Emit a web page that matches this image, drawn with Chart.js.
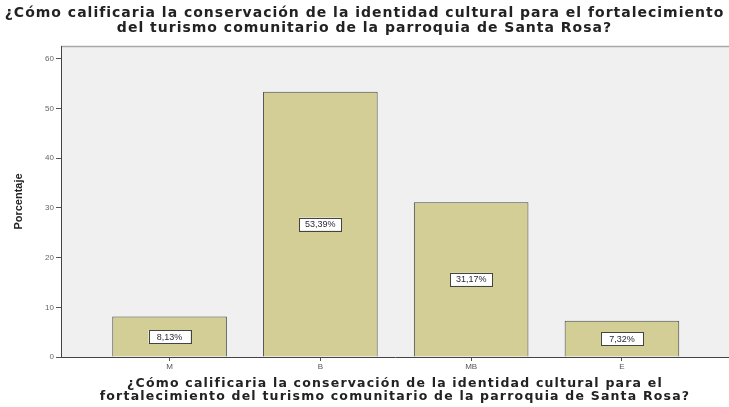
<!DOCTYPE html>
<html>
<head>
<meta charset="utf-8">
<script src="https://cdn.jsdelivr.net/npm/chart.js@4/dist/chart.umd.min.js"></script>
<style>
  body { margin: 0; background: #fff; }
  #wrap { width: 729px; height: 407px; }
</style>
</head>
<body>
<div id="wrap"><canvas id="chart" width="729" height="407"></canvas></div>
<script>
const categories = ['M', 'B', 'MB', 'E'];
const percentages = [8.13, 53.39, 31.17, 7.32];
const yTicks = [0, 10, 20, 30, 40, 50, 60];
const titleLines = ['¿Cómo calificaria la conservación de la identidad cultural para el fortalecimiento',
                    'del turismo comunitario de la parroquia de Santa Rosa?'];
const xTitleLines = ['¿Cómo calificaria la conservación de la identidad cultural para el',
                     'fortalecimiento del turismo comunitario de la parroquia de Santa Rosa?'];

// gray plot background + top frame line
const plotBackground = {
    id: 'plotBackground',
    beforeDraw(chart) {
        const { ctx, chartArea: a } = chart;
        ctx.save();
        ctx.fillStyle = '#f0f0f0';
        ctx.fillRect(a.left, a.top, a.right - a.left, a.bottom - a.top);
        ctx.strokeStyle = '#a8a8a8';
        ctx.lineWidth = 1.5;
        ctx.beginPath();
        ctx.moveTo(a.left, a.top + 0.5);
        ctx.lineTo(a.right, a.top + 0.5);
        ctx.stroke();
        ctx.restore();
    }
};

// chart title on top and the two-line x axis title (wide spaced, like the SPSS output)
const titles = {
    id: 'titles',
    afterDraw(chart) {
        const { ctx, chartArea: a } = chart;
        ctx.save();
        ctx.fillStyle = '#222';
        ctx.textAlign = 'center';
        ctx.textBaseline = 'middle';
        ctx.font = 'bold 14px "DejaVu Sans", sans-serif';
        ctx.letterSpacing = '1px';
        ctx.fillText(titleLines[0], chart.width / 2, 13);
        ctx.fillText(titleLines[1], chart.width / 2, 28);
        ctx.font = 'bold 12.5px "DejaVu Sans", sans-serif';
        ctx.letterSpacing = '1.2px';
        const cx = (a.left + a.right) / 2;
        ctx.fillText(xTitleLines[0], cx, 384);
        ctx.fillText(xTitleLines[1], cx, 397);
        ctx.restore();
    }
};

// boxed percentage labels in the middle of each bar
const boxLabels = {
    id: 'boxLabels',
    afterDatasetsDraw(chart) {
        const ctx = chart.ctx;
        const meta = chart.getDatasetMeta(0);
        ctx.save();
        ctx.font = '9px "Liberation Sans", Arial, sans-serif';
        ctx.textAlign = 'center';
        ctx.textBaseline = 'middle';
        meta.data.forEach((bar, i) => {
            const text = percentages[i].toFixed(2).replace('.', ',') + '%';
            const cy = (bar.y + bar.base) / 2;
            const w = 42, h = 13;
            ctx.fillStyle = '#ffffff';
            ctx.fillRect(bar.x - w / 2, cy - h / 2, w, h);
            ctx.strokeStyle = '#444444';
            ctx.lineWidth = 1;
            ctx.strokeRect(Math.round(bar.x - w / 2) + 0.5, Math.round(cy - h / 2) + 0.5, w, h);
            ctx.fillStyle = '#2a2a3a';
            ctx.fillText(text, bar.x, cy + 0.5);
        });
        ctx.restore();
    }
};

new Chart(document.getElementById('chart').getContext('2d'), {
    type: 'bar',
    data: {
        datasets: [{
            data: percentages.map((v, i) => ({ x: i, y: v })),
            backgroundColor: '#d3cd96',
            borderColor: '#444444',
            borderWidth: 1,
            barPercentage: 0.76,
            categoryPercentage: 1
        }]
    },
    options: {
        responsive: false,
        animation: false,
        layout: { padding: { left: 12, right: 0, top: 46, bottom: 0 } },
        plugins: {
            legend: { display: false },
            tooltip: { enabled: false },
            title: { display: false }
        },
        scales: {
            x: {
                type: 'linear',
                offset: false,
                min: -0.72,
                max: 3.71,
                afterBuildTicks: scale => { scale.ticks = categories.map((c, i) => ({ value: i })); },
                afterFit: scale => { scale.height = 50; },
                ticks: {
                    callback: v => categories[v],
                    color: '#555',
                    font: { family: '"Liberation Sans", Arial, sans-serif', size: 8 },
                    padding: 1,
                    maxRotation: 0
                },
                grid: { display: true, offset: false, drawOnChartArea: false, tickLength: 4, color: '#555' },
                border: { color: '#444', width: 1 }
            },
            y: {
                min: 0,
                max: 62.6,
                afterBuildTicks: scale => { scale.ticks = yTicks.map(v => ({ value: v })); },
                afterFit: scale => { scale.width = 49; },
                ticks: {
                    color: '#666',
                    font: { family: '"Liberation Sans", Arial, sans-serif', size: 8 },
                    padding: 2
                },
                grid: { display: true, drawOnChartArea: false, tickLength: 5, color: '#555' },
                border: { color: '#444', width: 1 },
                title: {
                    display: true,
                    text: 'Porcentaje',
                    color: '#222',
                    font: { family: '"Liberation Sans Narrow", "Liberation Sans", Arial, sans-serif', size: 11, weight: 'bold' },
                    padding: { top: 0, bottom: 6 }
                }
            }
        }
    },
    plugins: [plotBackground, boxLabels, titles]
});
</script>
</body>
</html>
